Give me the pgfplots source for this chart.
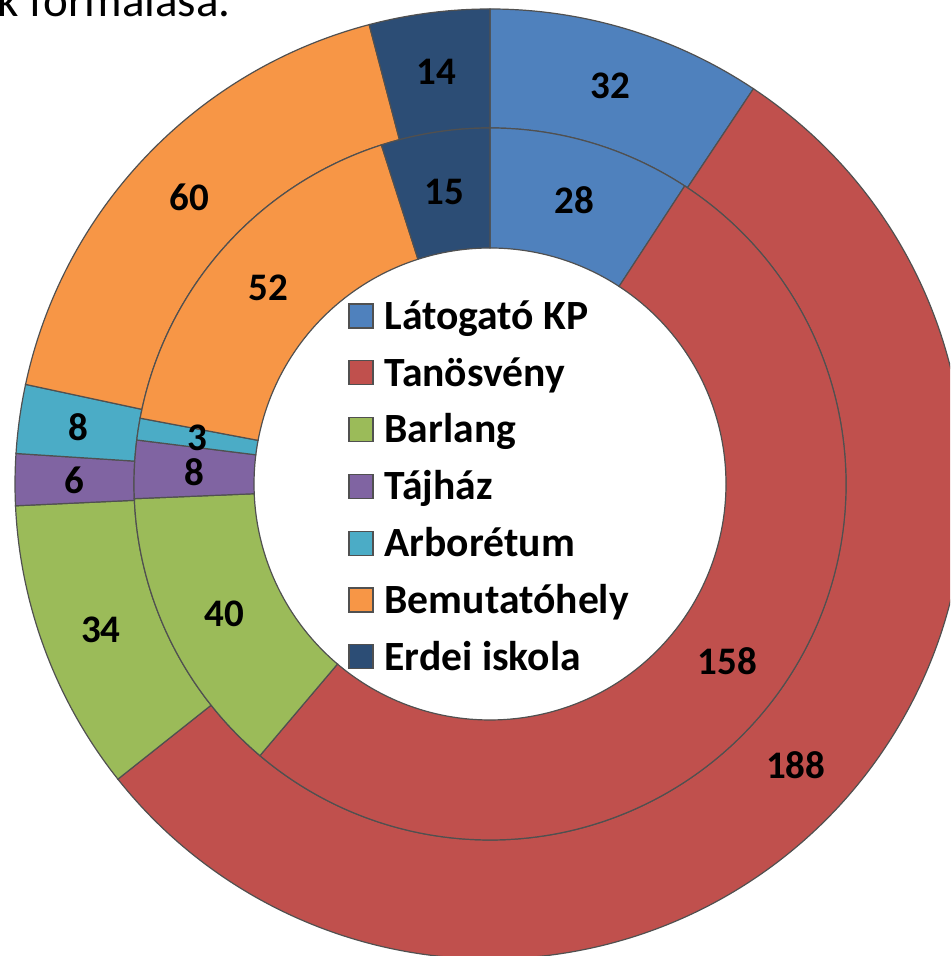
\documentclass[border=0pt]{standalone}
\usepackage{pgfplots}
\pgfplotsset{compat=1.18}
\usepackage{fontspec}
\setmainfont{Carlito}
\definecolor{c1}{HTML}{4F81BD}
\definecolor{c2}{HTML}{C0504D}
\definecolor{c3}{HTML}{9BBB59}
\definecolor{c4}{HTML}{8064A2}
\definecolor{c5}{HTML}{4BACC6}
\definecolor{c6}{HTML}{F79646}
\definecolor{c7}{HTML}{2C4D75}
\definecolor{edge}{HTML}{505050}
\tikzset{lbl/.style={font=\bfseries\fontsize{19.5}{19.5}\selectfont, inner sep=0pt}}
% #1 data list, #2 inner radius, #3 outer radius (axis units)
\newcommand\drawring[3]{%
  \def\tot{0}%
  \pgfplotsforeachungrouped \v in {#1}{\pgfmathsetmacro\tot{\tot+\v}}%
  \pgfmathsetmacro\dpu{360/\tot}%
  \def\cum{0}\def\idx{0}%
  \pgfmathsetmacro\rI{#2*0.5}\pgfmathsetmacro\rO{#3*0.5}%
  \pgfplotsforeachungrouped \v in {#1}{%
    \pgfmathsetmacro\aA{90-\dpu*\cum}%
    \pgfmathsetmacro\cum{\cum+\v}%
    \pgfmathsetmacro\aB{90-\dpu*\cum}%
    \pgfmathtruncatemacro\idx{\idx+1}%
    \pgfmathsetmacro\xA{490+#2*cos(\aA)}\pgfmathsetmacro\yA{472+#2*sin(\aA)}%
    \pgfmathsetmacro\xB{490+#3*cos(\aA)}\pgfmathsetmacro\yB{472+#3*sin(\aA)}%
    \pgfmathsetmacro\xC{490+#2*cos(\aB)}\pgfmathsetmacro\yC{472+#2*sin(\aB)}%
    \edef\temp{\noexpand\filldraw[fill=c\idx, draw=edge, line width=0.6pt]
      (axis cs:\xA,\yA) -- (axis cs:\xB,\yB)
      arc[start angle=\aA, end angle=\aB, radius=\rO pt] -- (axis cs:\xC,\yC)
      arc[start angle=\aB, end angle=\aA, radius=\rI pt] -- cycle;}%
    \temp
  }%
  \def\cum{0}%
  \pgfplotsforeachungrouped \v in {#1}{%
    \pgfmathsetmacro\aA{90-\dpu*\cum}%
    \pgfmathsetmacro\cum{\cum+\v}%
    \pgfmathsetmacro\aB{90-\dpu*\cum}%
    \pgfmathsetmacro\aM{(\aA+\aB)/2}%
    \pgfmathsetmacro\xM{490+(#2+#3)/2*cos(\aM)}\pgfmathsetmacro\yM{472+(#2+#3)/2*sin(\aM)}%
    \edef\temp{\noexpand\node[lbl] at (axis cs:\xM,\yM) {\v};}%
    \temp
  }%
}
\begin{document}
\begin{tikzpicture}
\useasboundingbox (0,0) rectangle (475pt,478pt);
\clip (0,0) rectangle (475pt,478pt);
\begin{axis}[
  at={(0,0)}, anchor=south west,
  x=0.5pt, y=0.5pt,
  xmin=0, xmax=950, ymin=0, ymax=956,
  hide axis, clip=false,
  legend cell align=left,
  legend image code/.code={\filldraw[#1] (0pt,-6pt) rectangle (12pt,6pt);},
  legend style={at={(axis cs:348,660)}, anchor=north west, draw=none, fill=none,
    inner sep=0pt, row sep=8.8pt,
    font=\bfseries\fontsize{20.8}{20.8}\selectfont,
    nodes={inner sep=0pt, text height=16.5pt, text depth=3.1pt},
    /tikz/every odd column/.append style={column sep=5.5pt}},
]
% order: Látogató KP, Tanösvény, Barlang, Tájház, Arborétum, Bemutatóhely, Erdei iskola
\drawring{32,188,34,6,8,60,14}{356}{475}
\drawring{28,158,40,8,3,52,15}{236}{356}
\node[anchor=base east, inner sep=0pt, font=\fontsize{23.5}{23.5}\selectfont] at (axis cs:231,939) {k formálása.};
\addlegendimage{fill=c1, draw=edge, line width=0.6pt}
\addlegendimage{fill=c2, draw=edge, line width=0.6pt}
\addlegendimage{fill=c3, draw=edge, line width=0.6pt}
\addlegendimage{fill=c4, draw=edge, line width=0.6pt}
\addlegendimage{fill=c5, draw=edge, line width=0.6pt}
\addlegendimage{fill=c6, draw=edge, line width=0.6pt}
\addlegendimage{fill=c7, draw=edge, line width=0.6pt}
\legend{Látogató KP, Tanösvény, Barlang, Tájház, Arborétum, Bemutatóhely, Erdei iskola}
\end{axis}
\end{tikzpicture}
\end{document}
